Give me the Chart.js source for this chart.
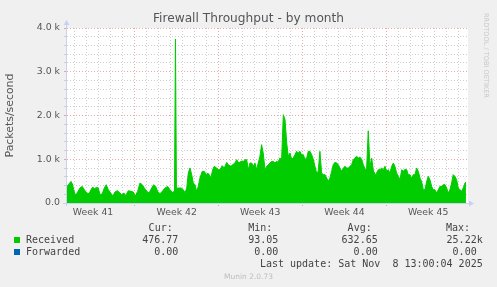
<!DOCTYPE html>
<html>
<head>
<meta charset="utf-8">
<title>Firewall Throughput - by month</title>
<script src="https://cdn.jsdelivr.net/npm/chart.js@4.4.1/dist/chart.umd.min.js"></script>
<style>
  html, body { margin: 0; padding: 0; background: #f0f0f0; }
  #wrap { position: relative; width: 497px; height: 287px; overflow: hidden; }
  #chart { position: absolute; left: 0; top: 0; }
  .t { position: absolute; white-space: pre; }
  .title { left: 0; width: 497px; top: 11px; text-align: center; font: 12.2px/14px 'DejaVu Sans', sans-serif; color: #555; }
  .mono { font: 10px/12px 'DejaVu Sans Mono', monospace; color: #444; }
  .r { text-align: right; }
  .sw { position: absolute; width: 6px; height: 6px; }
  .rrd { left: 482px; top: 13px; writing-mode: vertical-rl; font: 6.6px/8px 'DejaVu Sans', sans-serif; color: #c8c8c8; }
  .munin { left: 0; width: 497px; top: 272px; text-align: center; font: 7.5px/9px 'DejaVu Sans', sans-serif; color: #bdbdbd; }
</style>
</head>
<body>
<div id="wrap">
  <canvas id="chart" width="497" height="287"></canvas>
  <div class="t title">Firewall Throughput - by month</div>
  <div class="t rrd">RRDTOOL / TOBI OETIKER</div>
  <div id="legend"></div>
  <div class="t munin">Munin 2.0.73</div>
</div>
<script>
/* Time axis in days from the left edge of the graph */
var receivedDays = [
  0.00, 0.11, 0.33, 0.44, 0.66, 0.80, 1.07, 1.26, 1.43, 1.63,
  1.82, 1.98, 2.12, 2.25, 2.45, 2.58, 2.72, 2.91, 3.08, 3.24,
  3.41, 3.61, 3.77, 3.96, 4.15, 4.32, 4.51, 4.70, 4.84, 5.06,
  5.28, 5.47, 5.61, 5.83, 6.02, 6.21, 6.38, 6.58, 6.77, 6.99,
  7.15, 7.32, 7.48, 7.67, 7.86, 8.09, 8.31, 8.50, 8.69, 8.87,
  8.95, 9.03, 9.19, 9.41, 9.60, 9.74, 9.88, 10.01, 10.15, 10.29,
  10.42, 10.56, 10.70, 10.83, 10.97, 11.16, 11.33, 11.47, 11.61, 11.74,
  11.88, 12.02, 12.15, 12.35, 12.48, 12.62, 12.81, 12.98, 13.18, 13.31,
  13.53, 13.67, 13.86, 14.00, 14.19, 14.36, 14.55, 14.69, 14.83, 14.96,
  15.10, 15.24, 15.37, 15.51, 15.65, 15.78, 15.92, 16.06, 16.19, 16.34,
  16.48, 16.61, 16.75, 16.89, 17.02, 17.16, 17.30, 17.43, 17.57, 17.71,
  17.85, 17.99, 18.13, 18.26, 18.40, 18.54, 18.67, 18.81, 18.95, 19.08,
  19.22, 19.36, 19.50, 19.64, 19.78, 19.91, 20.05, 20.19, 20.32, 20.46,
  20.60, 20.73, 20.87, 21.01, 21.15, 21.29, 21.43, 21.56, 21.70, 21.84,
  21.97, 22.11, 22.25, 22.39, 22.52, 22.66, 22.80, 22.94, 23.08, 23.21,
  23.35, 23.49, 23.62, 23.76, 23.90, 24.04, 24.17, 24.31, 24.45, 24.59,
  24.72, 24.86, 25.00, 25.14, 25.27, 25.41, 25.55, 25.69, 25.83, 25.96,
  26.10, 26.24, 26.38, 26.51, 26.65, 26.79, 26.93, 27.06, 27.20, 27.34,
  27.48, 27.62, 27.75, 27.89, 28.03, 28.16, 28.30, 28.44, 28.58, 28.71,
  28.85, 28.99, 29.13, 29.26, 29.40, 29.54, 29.68, 29.81, 29.95, 30.09,
  30.22, 30.36, 30.50, 30.64, 30.78, 30.91, 31.05, 31.19, 31.33, 31.46,
  31.60, 31.74, 31.87, 32.01, 32.15, 32.29, 32.43, 32.56, 32.70, 32.84,
  32.92
];

/* Received packets/second */
var receivedValues = [
  380, 418, 494, 434, 190, 213, 343, 380, 304, 229,
  213, 304, 366, 327, 357, 343, 190, 213, 343, 418,
  304, 229, 152, 251, 281, 243, 190, 229, 167, 281,
  266, 251, 152, 266, 457, 418, 343, 266, 229, 343,
  418, 380, 266, 213, 266, 343, 380, 304, 243, 266,
  3750, 340, 343, 343, 304, 229, 343, 686, 800, 647,
  457, 418, 266, 380, 571, 723, 723, 647, 686, 647,
  571, 762, 838, 800, 762, 762, 853, 800, 929, 876,
  838, 876, 914, 990, 914, 952, 952, 990, 990, 762,
  914, 914, 838, 914, 762, 914, 1066, 1333, 1143, 762,
  838, 876, 914, 952, 952, 914, 952, 929, 1028, 1000,
  2018, 1905, 1371, 1066, 1143, 1000, 1028, 1104, 1181, 1143,
  1181, 1104, 1104, 1000, 1028, 1181, 1181, 1104, 1000, 838,
  686, 724, 1181, 686, 648, 648, 571, 495, 571, 724,
  876, 929, 914, 876, 800, 724, 800, 838, 800, 800,
  838, 876, 990, 1028, 1066, 1028, 1050, 1000, 876, 780,
  762, 1650, 838, 1028, 762, 648, 686, 762, 762, 800,
  762, 838, 724, 762, 686, 838, 914, 838, 686, 609,
  533, 762, 724, 770, 762, 648, 648, 571, 648, 648,
  800, 724, 571, 495, 304, 304, 495, 609, 533, 381,
  304, 304, 229, 304, 381, 381, 419, 419, 343, 229,
  304, 457, 648, 609, 533, 343, 304, 266, 343, 457,
  477
];

/* Week labels and where they sit (mid-week), week boundaries */
var weekLabels = ['Week 41', 'Week 42', 'Week 43', 'Week 44', 'Week 45'];
var weekLabelDays = [2.15, 9.05, 15.95, 22.9, 29.8];
var weekLineDays = [5.53, 12.46, 19.39, 26.32];

/* Y axis */
var yTickLabels = ['0.0', '1.0 k', '2.0 k', '3.0 k', '4.0 k'];

/* Legend table */
var seriesNames = ['Received', 'Forwarded'];
var seriesColours = ['#00cc00', '#0066b3'];
var statHeaders = ['Cur:', 'Min:', 'Avg:', 'Max:'];
var statValues = [
  ['476.77', '93.05', '632.65', '25.22k'],
  ['0.00', '0.00', '0.00', '0.00 ']
];
var lastUpdate = 'Last update: Sat Nov  8 13:00:04 2025';

var MAJOR = 'rgba(222, 120, 120, 0.65)';
var MINOR = '#cfcfcf';
var AXIS = '#c9d0f5';
var DAY_STEP = 0.99;

/* Build the legend overlay */
(function() {
  var legend = document.getElementById('legend');
  var colRight = [172.7, 272.3, 371.7, 470];
  var valRight = [178.3, 278.3, 377.7, 482.7];
  var rowTop = [221.5, 233.5, 245.5, 257.5];
  var html = '';
  statHeaders.forEach(function(h, i) {
    html += '<div class="t mono r" style="right:' + (497 - colRight[i]) + 'px;top:' + rowTop[0] + 'px">' + h + '</div>';
  });
  seriesNames.forEach(function(name, r) {
    var top = rowTop[r + 1];
    html += '<div class="sw" style="left:14px;top:' + (top + 3.5) + 'px;background:' + seriesColours[r] + '"></div>';
    html += '<div class="t mono" style="left:26px;top:' + top + 'px">' + name + '</div>';
    statValues[r].forEach(function(v, i) {
      html += '<div class="t mono r" style="right:' + (497 - valRight[i]) + 'px;top:' + top + 'px">' + v + '</div>';
    });
  });
  html += '<div class="t mono r" style="right:' + (497 - 482.7) + 'px;top:' + rowTop[3] + 'px">' + lastUpdate + '</div>';
  legend.innerHTML = html;
})();

var points = receivedDays.map(function(d, i) { return { x: d, y: receivedValues[i] }; });

/* White plot area, day/week grid, axis arrows */
var munInPlot = {
  id: 'muninPlot',
  beforeDraw: function(chart) {
    var a = chart.chartArea, ctx = chart.ctx;
    ctx.save();
    ctx.fillStyle = '#ffffff';
    ctx.fillRect(a.left, a.top, a.right - a.left, a.bottom - a.top);
    ctx.restore();
  },
  beforeDatasetsDraw: function(chart) {
    var a = chart.chartArea, ctx = chart.ctx, xs = chart.scales.x;
    ctx.save();
    ctx.lineWidth = 1;
    ctx.setLineDash([1, 2]);
    /* minor day lines */
    ctx.strokeStyle = MINOR;
    var start = weekLineDays[0];
    while (start - DAY_STEP >= xs.min) start -= DAY_STEP;
    for (var d = start; d <= xs.max; d += DAY_STEP) {
      var isWeek = weekLineDays.some(function(w) { return Math.abs(w - d) < 0.2; });
      if (isWeek) continue;
      var px = Math.round(xs.getPixelForValue(d)) + 0.5;
      ctx.beginPath(); ctx.moveTo(px, a.top); ctx.lineTo(px, a.bottom + 2); ctx.stroke();
    }
    /* week lines */
    ctx.strokeStyle = MAJOR;
    weekLineDays.forEach(function(w) {
      var px = Math.round(xs.getPixelForValue(w)) + 0.5;
      ctx.beginPath(); ctx.moveTo(px, a.top); ctx.lineTo(px, a.bottom + 3); ctx.stroke();
    });
    ctx.restore();
  },
  afterDatasetsDraw: function(chart) {
    var a = chart.chartArea, ctx = chart.ctx;
    var x0 = Math.round(a.left) - 0.5, y0 = Math.round(a.bottom) + 0.5;
    ctx.save();
    ctx.strokeStyle = AXIS;
    ctx.fillStyle = AXIS;
    ctx.lineWidth = 1;
    ctx.beginPath();
    ctx.moveTo(x0, a.bottom + 3); ctx.lineTo(x0, a.top - 3);
    ctx.moveTo(a.left - 4, y0); ctx.lineTo(a.right + 2, y0);
    ctx.stroke();
    ctx.beginPath();
    ctx.moveTo(x0 - 3, a.top - 3); ctx.lineTo(x0 + 3, a.top - 3); ctx.lineTo(x0, a.top - 8); ctx.closePath();
    ctx.fill();
    ctx.beginPath();
    ctx.moveTo(a.right + 1, y0 - 3); ctx.lineTo(a.right + 1, y0 + 3); ctx.lineTo(a.right + 6, y0); ctx.closePath();
    ctx.fill();
    ctx.restore();
  }
};

Chart.defaults.font.family = "'DejaVu Sans', sans-serif";
Chart.defaults.color = '#555';

new Chart(document.getElementById('chart').getContext('2d'), {
  type: 'line',
  data: {
    datasets: [{
      label: seriesNames[0],
      data: points,
      fill: 'origin',
      backgroundColor: seriesColours[0],
      borderColor: seriesColours[0],
      borderWidth: 1,
      pointRadius: 0,
      tension: 0
    }]
  },
  options: {
    responsive: false,
    animation: false,
    devicePixelRatio: 1,
    layout: { padding: { top: 28, right: 29, left: 0, bottom: 0 } },
    plugins: { legend: { display: false }, tooltip: { enabled: false } },
    scales: {
      x: {
        type: 'linear',
        min: 0,
        max: 33.09,
        afterFit: function(scale) { scale.height = 84; },
        afterBuildTicks: function(scale) {
          scale.ticks = weekLabelDays.map(function(v) { return { value: v }; });
        },
        grid: { display: false, drawTicks: false },
        border: { display: false },
        ticks: {
          autoSkip: false,
          maxRotation: 0,
          padding: 4,
          color: '#555',
          font: { size: 9.33 },
          callback: function(v, i) { return weekLabels[i]; }
        }
      },
      y: {
        min: 0,
        max: 4000,
        afterFit: function(scale) { scale.width = 67; },
        grid: {
          lineWidth: 1,
          tickLength: 3,
          color: function(ctx) {
            return ctx.tick && ctx.tick.value % 1000 === 0 ? MAJOR : MINOR;
          }
        },
        border: { display: false, dash: [1, 2] },
        title: {
          display: true,
          text: 'Packets/second',
          color: '#555',
          font: { size: 10.9 }
        },
        ticks: {
          stepSize: 200,
          autoSkip: false,
          padding: 4,
          color: '#555',
          font: { size: 9.4 },
          callback: function(v) { return v % 1000 === 0 ? yTickLabels[v / 1000] : ''; }
        }
      }
    }
  },
  plugins: [munInPlot]
});
</script>
</body>
</html>
